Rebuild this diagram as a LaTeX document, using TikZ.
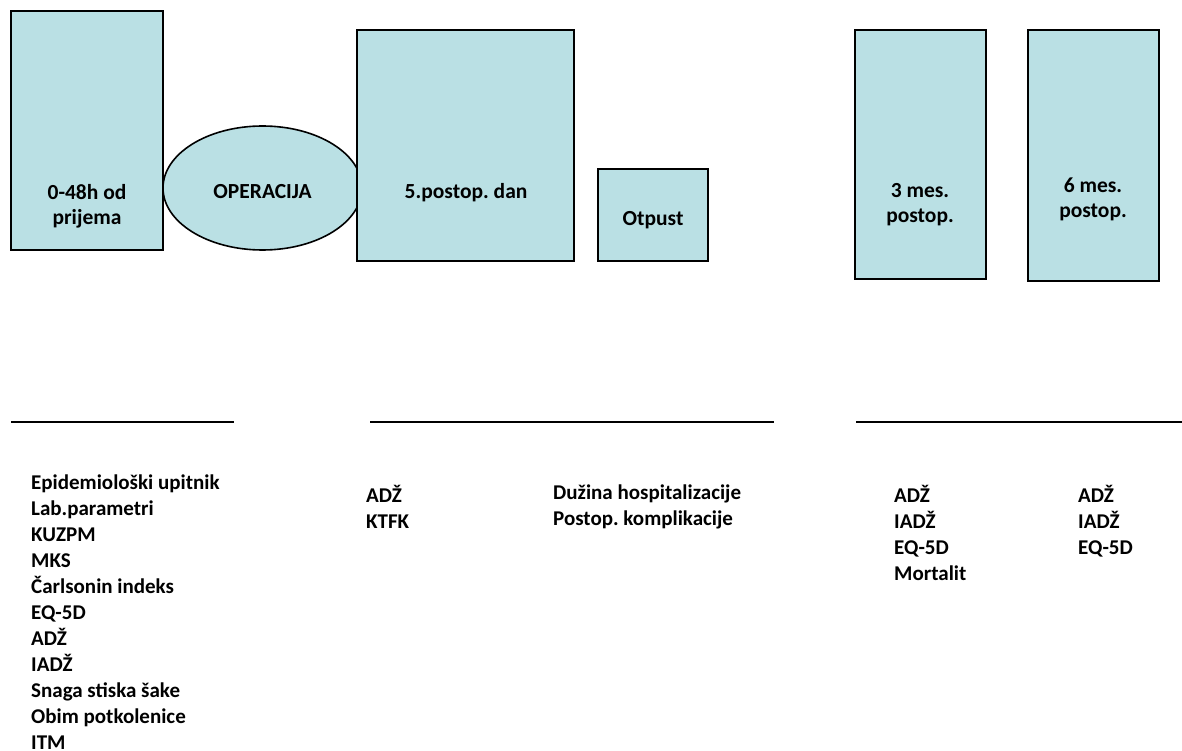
\documentclass[tikz,border=0pt]{standalone}
\usepackage{fontspec}
\setmainfont{Carlito}
\frenchspacing
\usetikzlibrary{shapes.geometric, positioning}
\definecolor{phasebg}{HTML}{BAE0E4}
\tikzset{
  % faza u vremenskoj liniji
  phase/.style={draw=black, line width=1.6pt, fill=phasebg, inner sep=0pt},
  phaseoval/.style={phase, ellipse},
  % natpisi
  ptxt/.style={font=\fontsize{21.5}{25}\selectfont\bfseries, align=center, inner sep=0pt},
  ltxt/.style={font=\fontsize{21}{26}\selectfont\bfseries, align=left, anchor=north west,
    inner sep=0pt, execute at begin node=\strut},
  % crta iznad liste
  rule/.style={line width=1.6pt},
}
\begin{document}
\begin{tikzpicture}[x=1pt, y=-1pt]
  \useasboundingbox (0,0) rectangle (1182,751);
  % faze
  \node[phase, minimum width=152pt, minimum height=239pt] (adm) at (87,130.5) {};
  \node[phaseoval, minimum width=199pt, minimum height=124pt] (op) at (262.5,188) {};
  \node[phase, minimum width=217pt, minimum height=231pt] (pod5) at (465.5,145.5) {};
  \node[phase, minimum width=110pt, minimum height=92pt] (otp) at (653,215) {};
  \node[phase, minimum width=131pt, minimum height=249pt] (m3) at (920.5,154.5) {};
  \node[phase, minimum width=131pt, minimum height=251pt] (m6) at (1093.5,155.5) {};
  \node[ptxt] (admt) at (87,206) {0-48h od\\prijema};
  \node[ptxt, anchor=base] (opt) at (262.5,198.5) {OPERACIJA};
  \node[ptxt, anchor=base] (pod5t) at (466,198.5) {5.postop. dan};
  \node[ptxt, anchor=base] (otpt) at (653,225.5) {Otpust};
  \node[ptxt] (m3t) at (920,205) {3 mes.\\postop.};
  \node[ptxt] (m6t) at (1093,199.5) {6 mes.\\postop.};
  % crte
  \coordinate (r1a) at (11,422); \coordinate (r1b) at (234,422);
  \coordinate (r2a) at (370,422); \coordinate (r2b) at (774,422);
  \coordinate (r3a) at (856,422); \coordinate (r3b) at (1182,422);
  \draw[rule] (r1a) -- (r1b);
  \draw[rule] (r2a) -- (r2b);
  \draw[rule] (r3a) -- (r3b);
  % liste
  \node[ltxt] (l1) at (31,474.5) {Epidemiološki upitnik\\Lab.parametri\\KUZPM\\MKS\\Čarlsonin indeks\\EQ-5D\\ADŽ\\IADŽ\\Snaga stiska šake\\Obim potkolenice\\ITM};
  \node[ltxt] (l2) at (366,485) {ADŽ\\KTFK};
  \node[ltxt] (l3) at (553,485) {Dužina hospitalizacije\\Postop. komplikacije};
  \node[ltxt] (l4) at (894,485) {ADŽ\\IADŽ\\EQ-5D\\Mortalit};
  \node[ltxt] (l5) at (1078,485) {ADŽ\\IADŽ\\EQ-5D};
\end{tikzpicture}
\end{document}
